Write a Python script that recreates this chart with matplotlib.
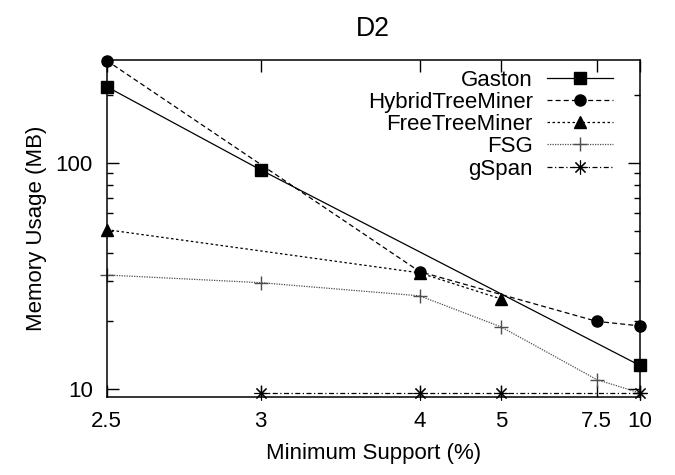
import matplotlib
matplotlib.use('Agg')
import matplotlib.pyplot as plt
from matplotlib.ticker import FixedLocator, NullLocator, NullFormatter, FixedFormatter

plt.rcParams['font.family'] = ['Liberation Sans', 'DejaVu Sans']
plt.rcParams['font.size'] = 16

# minimum support (%) and memory usage (MB)
gaston_x = [2.5, 3, 10]
gaston_y = [217, 93, 12.7]
htm_x = [2.5, 4, 7.5, 10]
htm_y = [283, 33, 19.9, 19.0]
ftm_x = [2.5, 4, 5]
ftm_y = [50.6, 32.6, 25.0]
fsg_x = [2.5, 3, 4, 5, 7.5, 10]
fsg_y = [31.9, 29.5, 25.8, 18.8, 11.0, 9.6]
gspan_x = [3, 4, 5, 10]
gspan_y = [9.6, 9.6, 9.6, 9.6]

xticks = [2.5, 3, 4, 5, 7.5, 10]
xtick_labels = ['2.5', '3', '4', '5', '7.5', '10']

fig = plt.figure(figsize=(6.75, 4.75), dpi=100)
ax = fig.add_axes([0.158, 0.165, 0.790, 0.709])

series = [
    ('Gaston', gaston_x, gaston_y, dict(ls='-', marker='s', ms=8.5)),
    ('HybridTreeMiner', htm_x, htm_y, dict(ls=(0, (4, 2.5)), marker='o', ms=8)),
    ('FreeTreeMiner', ftm_x, ftm_y, dict(ls=(0, (2, 2)), marker='^', ms=8)),
    ('FSG', fsg_x, fsg_y, dict(ls=(0, (1, 1)), marker='+', ms=10, mew=1, color='0.3')),
    ('gSpan', gspan_x, gspan_y, dict(ls=(0, (4, 2, 1, 2)), marker=(8, 2, 0), ms=10, mew=0.8)),
]

for name, xs, ys, st in series:
    kw = dict(color='black', lw=0.9, mew=1)
    kw.update(st)
    ax.plot(xs, ys, clip_on=False, **kw)

ax.set_xscale('function', functions=(lambda x: -1.0 / (x - 0.9), lambda y: 0.9 - 1.0 / y))
ax.set_yscale('log')
ax.set_xlim(2.5, 10)
ax.set_ylim(9.25, 285)

ax.xaxis.set_major_locator(FixedLocator(xticks))
ax.xaxis.set_major_formatter(FixedFormatter(xtick_labels))
ax.xaxis.set_minor_locator(NullLocator())
ax.yaxis.set_major_locator(FixedLocator([10, 100]))
ax.yaxis.set_major_formatter(FixedFormatter(['10', '100']))
ax.yaxis.set_minor_locator(FixedLocator([20, 30, 40, 50, 60, 70, 80, 90, 200]))
ax.yaxis.set_minor_formatter(NullFormatter())

ax.tick_params(which='both', direction='in', top=True, right=True, width=1, pad=10)
ax.tick_params(which='major', length=8.5)
ax.tick_params(which='minor', length=4.3)
for sp in ax.spines.values():
    sp.set_linewidth(1.1)

ax.set_xlabel('Minimum Support (%)', labelpad=8)
ax.set_ylabel('Memory Usage (MB)', labelpad=6)
ax.set_title('D2', pad=17)

# legend drawn by hand so the names line up on the right like the original
row_y = [0.947, 0.881, 0.816, 0.750, 0.683]
for (name, xs, ys, st), yy in zip(series, row_y):
    kw = dict(color='black', lw=0.9, mew=1)
    kw.update(st)
    ax.text(0.799, yy, name, transform=ax.transAxes, ha='right', va='center_baseline')
    ax.plot([0.826, 0.949], [yy, yy], transform=ax.transAxes, marker='None',
            ls=kw['ls'], color=kw['color'], lw=kw['lw'], clip_on=False)
    ax.plot([0.8875], [yy], transform=ax.transAxes, ls='None', marker=kw['marker'],
            ms=kw['ms'], mew=kw['mew'], color=kw['color'], clip_on=False)

fig.savefig('out.png', dpi=100)
